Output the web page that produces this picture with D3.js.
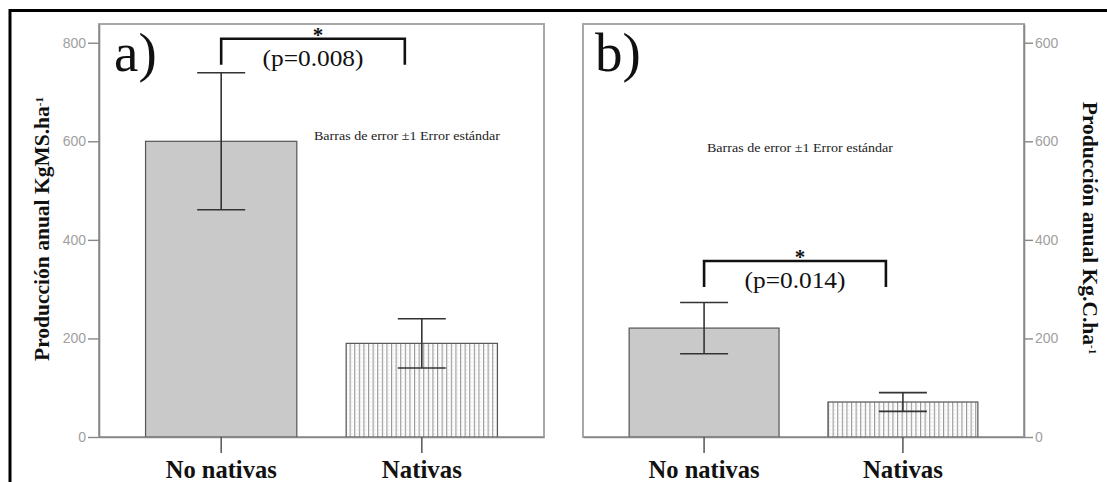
<!DOCTYPE html>
<html lang="es">
<head>
<meta charset="utf-8"/>
<title>Producción anual</title>
<style>
  body { margin: 0; background: #fff; }
  svg { display: block; }
</style>
</head>
<body>
<svg id="chart"></svg>
<script src="https://cdn.jsdelivr.net/npm/d3@7"></script>
<script>
// data
const categories = ["No nativas", "Nativas"];
const prodMS = [600, 190];       // a) KgMS.ha-1
const prodMS_se = [139, 50];
const prodC = [221, 71];         // b) Kg.C.ha-1
const prodC_se = [52, 19];
const yTicks = [0, 200, 400, 600, 800];
const tickLabelsA = ["0", "200", "400", "600", "800"];
const tickLabelsB = ["0", "200", "400", "600", "600"];
const pValues = ["(p=0.008)", "(p=0.014)"];
const bracketLevel = [808, 357];   // height of the significance bracket, in axis units
const legendText = "Barras de error \u00b11 Error est\u00e1ndar";

const W = 1107, H = 482;
const plotTop = 24, plotBottom = 437;
const serif = "'Liberation Serif', 'Times New Roman', serif";
const sans = "'Liberation Sans', Arial, sans-serif";

const svg = d3.select("#chart").attr("width", W).attr("height", H);

// hatch for the "Nativas" bars
const pat = svg.append("defs").append("pattern")
  .attr("id", "vlines")
  .attr("patternUnits", "userSpaceOnUse")
  .attr("width", 4.6).attr("height", 4);
pat.append("rect").attr("width", 4.6).attr("height", 4).attr("fill", "#fff");
pat.append("line").attr("x1", 0.6).attr("x2", 0.6).attr("y1", 0).attr("y2", 4)
  .attr("stroke", "#8a8a8a").attr("stroke-width", 1);
pat.append("line").attr("x1", 1.5).attr("x2", 3.5).attr("y1", 2).attr("y2", 2)
  .attr("stroke", "#e2e2e2").attr("stroke-width", 0.8);

// outer black frame (only top and left visible)
svg.append("line").attr("x1", 10).attr("x2", W).attr("y1", 10.5).attr("y2", 10.5)
  .attr("stroke", "#000").attr("stroke-width", 3);
svg.append("line").attr("x1", 10).attr("x2", 10).attr("y1", 9).attr("y2", H)
  .attr("stroke", "#000").attr("stroke-width", 3);

const y = d3.scaleLinear().domain([0, 838]).range([plotBottom, plotTop]);

function drawPanel(cfg) {
  const g = svg.append("g");
  const x = d3.scaleBand().domain(categories).range([cfg.x0, cfg.x1])
    .paddingInner(0.246).paddingOuter(0.232);
  const bw = x.bandwidth();

  // frame
  g.append("rect").attr("x", cfg.x0).attr("y", plotTop)
    .attr("width", cfg.x1 - cfg.x0).attr("height", plotBottom - plotTop)
    .attr("fill", "none").attr("stroke", "#a8a8a8").attr("stroke-width", 2);

  // bars
  g.selectAll("rect.bar").data(categories).enter().append("rect")
    .attr("class", "bar")
    .attr("x", d => x(d))
    .attr("y", (d, i) => y(cfg.values[i]))
    .attr("width", bw)
    .attr("height", (d, i) => y(0) - y(cfg.values[i]))
    .attr("fill", (d, i) => i === 0 ? "#c9c9c9" : "url(#vlines)")
    .attr("stroke", "#555").attr("stroke-width", 1.2);

  // error bars
  const eb = g.selectAll("g.err").data(categories).enter().append("g")
    .attr("class", "err")
    .attr("stroke", "#333").attr("stroke-width", 1.6);
  eb.append("line")
    .attr("x1", d => x(d) + bw / 2).attr("x2", d => x(d) + bw / 2)
    .attr("y1", (d, i) => y(cfg.values[i] + cfg.se[i]))
    .attr("y2", (d, i) => y(cfg.values[i] - cfg.se[i]));
  [1, -1].forEach(s => {
    eb.append("line")
      .attr("x1", d => x(d) + bw / 2 - 24).attr("x2", d => x(d) + bw / 2 + 24)
      .attr("y1", (d, i) => y(cfg.values[i] + s * cfg.se[i]))
      .attr("y2", (d, i) => y(cfg.values[i] + s * cfg.se[i]));
  });

  // value axis
  const axis = (cfg.side === "left" ? d3.axisLeft(y) : d3.axisRight(y))
    .tickValues(yTicks)
    .tickFormat((d, i) => cfg.tickLabels[i])
    .tickSize(cfg.side === "left" ? 11 : 9)
    .tickPadding(2)
    .tickSizeOuter(0);
  const ax = g.append("g")
    .attr("transform", `translate(${cfg.side === "left" ? cfg.x0 : cfg.x1},0)`)
    .call(axis);
  ax.select(".domain").attr("stroke", "#888").attr("stroke-width", 1.6);
  ax.selectAll(".tick line").attr("stroke", "#888").attr("stroke-width", 1.4);
  ax.selectAll(".tick text").attr("fill", "#a0a0a0")
    .style("font-family", sans).style("font-size", "14px");

  // category axis
  const cx = g.append("g").attr("transform", `translate(0,${plotBottom})`)
    .call(d3.axisBottom(x).tickSize(16).tickSizeOuter(0).tickPadding(5));
  cx.select(".domain").attr("stroke", "#888").attr("stroke-width", 1.6);
  cx.selectAll(".tick line").attr("stroke", "#555").attr("stroke-width", 1.5);
  cx.selectAll(".tick text").attr("fill", "#111")
    .attr("dy", null).attr("y", 41)
    .attr("textLength", d => d === "Nativas" ? 80 : 111)
    .attr("lengthAdjust", "spacingAndGlyphs")
    .style("font-family", serif).style("font-size", "25px").style("font-weight", "bold");

  // panel letter
  g.append("text").attr("x", cfg.x0 + cfg.letterDx).attr("y", 71)
    .style("font-family", serif).style("font-size", "55px").attr("fill", "#111")
    .text(cfg.letter);

  // error-bar note
  g.append("text").attr("x", cfg.noteX).attr("y", cfg.noteY)
    .attr("text-anchor", "middle")
    .attr("textLength", 186).attr("lengthAdjust", "spacingAndGlyphs")
    .style("font-family", serif).style("font-size", "12.5px").attr("fill", "#222")
    .text(legendText);

  // significance bracket
  const bx1 = x(categories[0]) + bw / 2;
  const bx2 = x(categories[1]) + bw / 2 - 17;
  const by = y(cfg.bracket);
  g.append("path")
    .attr("d", `M${bx1},${by + 26}V${by}H${bx2}V${by + 26}`)
    .attr("fill", "none").attr("stroke", "#111").attr("stroke-width", 2.6);
  const mid = (bx1 + bx2) / 2;
  g.append("text").attr("x", mid + 5).attr("y", by + 3)
    .attr("text-anchor", "middle")
    .style("font-family", serif).style("font-size", "21px").style("font-weight", "bold")
    .attr("fill", "#111").text("*");
  g.append("text").attr("x", mid).attr("y", by + 27)
    .attr("text-anchor", "middle")
    .attr("textLength", 101).attr("lengthAdjust", "spacingAndGlyphs")
    .style("font-family", serif).style("font-size", "23px").attr("fill", "#111")
    .text(cfg.p);

  // axis title
  const t = g.append("text")
    .attr("transform", cfg.side === "left"
      ? `translate(${cfg.titleX},229) rotate(-90)`
      : `translate(${cfg.titleX},228) rotate(90)`)
    .attr("text-anchor", "middle")
    .style("font-family", serif).style("font-size", "21.5px").style("font-weight", "bold")
    .attr("fill", "#111");
  t.append("tspan").text(cfg.title);
  t.append("tspan").attr("baseline-shift", "super").style("font-size", "11px").text("-1");
}

drawPanel({
  x0: 99, x1: 544, side: "left",
  values: prodMS, se: prodMS_se, tickLabels: tickLabelsA,
  letter: "a)", letterDx: 15,
  noteX: 407, noteY: 140,
  bracket: bracketLevel[0], p: pValues[0],
  title: "Producción anual KgMS.ha", titleX: 49
});

drawPanel({
  x0: 583, x1: 1024, side: "right",
  values: prodC, se: prodC_se, tickLabels: tickLabelsB,
  letter: "b)", letterDx: 12,
  noteX: 800, noteY: 152,
  bracket: bracketLevel[1], p: pValues[1],
  title: "Producción anual Kg.C.ha", titleX: 1083
});
</script>
</body>
</html>
